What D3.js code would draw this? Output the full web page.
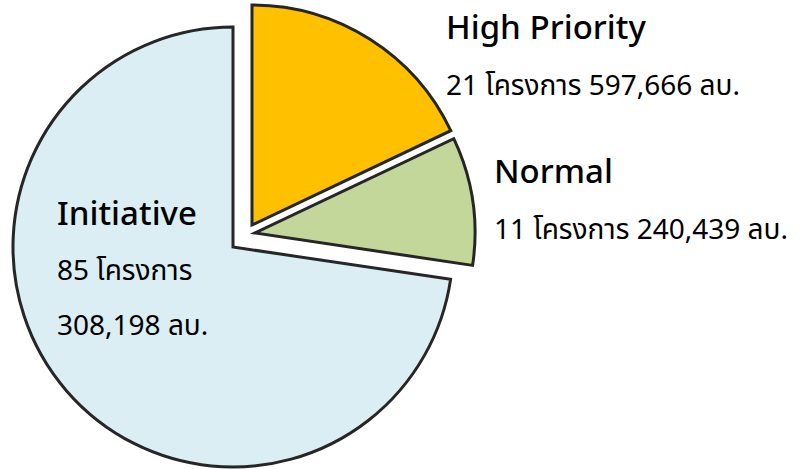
<!DOCTYPE html>
<html>
<head>
<meta charset="utf-8">
<script src="https://cdn.jsdelivr.net/npm/d3@7"></script>
<style>
  body { margin: 0; background: #fff; }
  svg text { font-family: "Noto Sans Thai", "Noto Sans", "DejaVu Sans", sans-serif; fill: #000; }
</style>
</head>
<body>
<div id="chart"></div>
<script>
// data
var categories = ["High Priority", "Normal", "Initiative"];
var projects = [21, 11, 85];
var budgets = ["597,666", "240,439", "308,198"];

var colors = { "High Priority": "#FFC000", "Normal": "#C4D79B", "Initiative": "#DAEEF3" };
// exploded slices are pushed away from the centre
var explode = { "High Priority": [19, -22], "Normal": [22, -14], "Initiative": [0, 0] };

var width = 800, height = 469, radius = 220;
var cx = 233, cy = 247;

var svg = d3.select("#chart").append("svg")
  .attr("width", width)
  .attr("height", height);

var rows = categories.map(function(c, i) {
  return { name: c, count: projects[i], budget: budgets[i] };
});

var pie = d3.pie().sort(null).value(function(d) { return d.count; });
var arc = d3.arc().innerRadius(0).outerRadius(radius);

var g = svg.append("g").attr("transform", "translate(" + cx + "," + cy + ")");

g.selectAll("path")
  .data(pie(rows))
  .enter().append("path")
  .attr("transform", function(d) {
    var o = explode[d.data.name];
    return "translate(" + o[0] + "," + o[1] + ")";
  })
  .attr("d", arc)
  .attr("fill", function(d) { return colors[d.data.name]; })
  .attr("stroke", "#262626")
  .attr("stroke-width", 3)
  .attr("stroke-linejoin", "miter");

// labels
var labelPos = {
  "High Priority": { x: 446, y: 39, lines: 1, dy: 56 },
  "Normal": { x: 494, y: 183, lines: 1, dy: 56 },
  "Initiative": { x: 57, y: 225, lines: 2, dy: 55 }
};

rows.forEach(function(r) {
  var p = labelPos[r.name];
  svg.append("text")
    .attr("x", p.x).attr("y", p.y)
    .attr("font-size", 33)
    .attr("font-weight", 500)
    .text(r.name);
  if (p.lines === 1) {
    svg.append("text")
      .attr("x", p.x).attr("y", p.y + p.dy)
      .attr("font-size", 28)
      .text(r.count + " โครงการ " + r.budget + " ลบ.");
  } else {
    svg.append("text")
      .attr("x", p.x).attr("y", p.y + p.dy)
      .attr("font-size", 28)
      .text(r.count + " โครงการ");
    svg.append("text")
      .attr("x", p.x).attr("y", p.y + p.dy * 2)
      .attr("font-size", 28)
      .text(r.budget + " ลบ.");
  }
});
</script>
</body>
</html>
